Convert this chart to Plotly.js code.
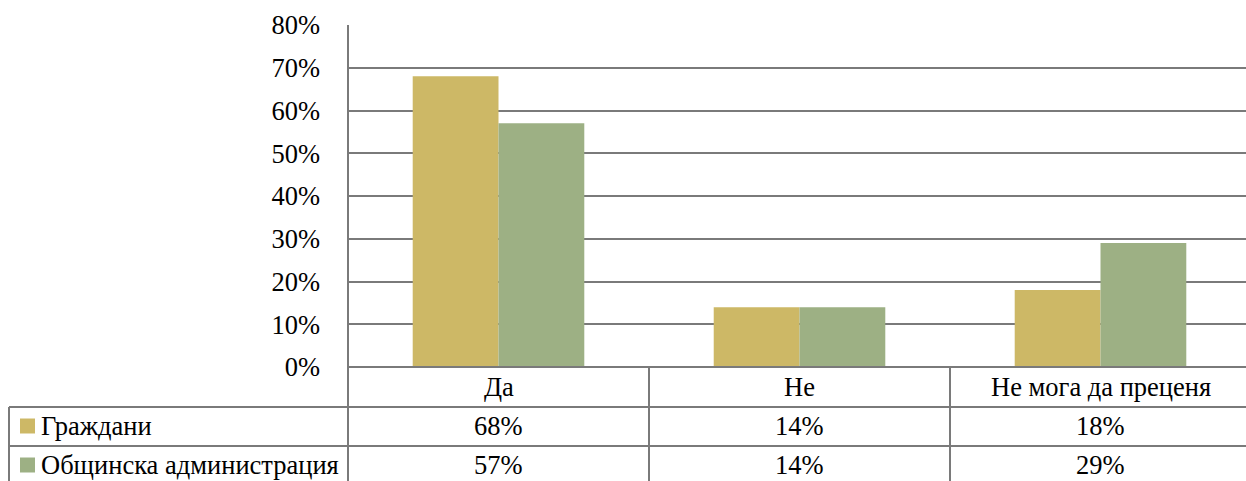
<!DOCTYPE html>
<html>
<head>
<meta charset="utf-8">
<script src="https://cdn.plot.ly/plotly-3.0.1.min.js"></script>
<style>
html,body{margin:0;padding:0;background:#fff;}
#chart{width:1246px;height:481px;}
</style>
</head>
<body>
<div id="chart"></div>
<script>
// ---- data ----
const categories = ["Да", "Не", "Не мога да преценя"];
const seriesNames = ["Граждани", "Общинска администрация"];
const grazhdani = [0.68, 0.14, 0.18];
const obshtinska = [0.57, 0.14, 0.29];
const yTicks = [0, 0.1, 0.2, 0.3, 0.4, 0.5, 0.6, 0.7, 0.8];

const colors = ["#CDB866", "#9DB084"];
const lineColor = "#7a7a7a";
const FONT = "Liberation Serif";
const FS = 26.5;

const W = 1246, H = 481;
const mL = 348, mR = 0, mT = 25, mB = 114;
const plotW = W - mL - mR, plotH = H - mT - mB;
const catPx = 301;
const xMax = -0.5 + plotW / catPx;

const px2x = p => (p - mL) / plotW;
const py2y = p => (H - mB - p) / plotH;

const xs = categories.map((c, i) => i);
const seriesVals = [grazhdani, obshtinska];

const traces = seriesVals.map((vals, s) => ({
  type: "bar",
  x: xs,
  y: vals,
  name: seriesNames[s],
  marker: {color: colors[s], line: {width: 0}},
  hoverinfo: "none"
}));

const shapes = [];
const annotations = [];
const ln = (x0, y0, x1, y1, xref) => shapes.push({
  type: "line", xref: xref || "paper", yref: "paper",
  x0: x0, y0: y0, x1: x1, y1: y1,
  line: {color: lineColor, width: 2}, layer: "above"
});

ln(0, 1, 0, py2y(H));
const rowTop = [367, 407, 446];
ln(0, py2y(rowTop[0]), 1, py2y(rowTop[0]));
ln(px2x(9), py2y(rowTop[1]), 1, py2y(rowTop[1]));
ln(px2x(9), py2y(rowTop[2]), 1, py2y(rowTop[2]));
ln(px2x(9), py2y(rowTop[1]), px2x(9), py2y(H));
for (let i = 0; i < categories.length; i++) {
  const xb = i + 0.5;
  shapes.push({type: "line", xref: "x", yref: "paper",
    x0: xb, x1: xb, y0: py2y(rowTop[0]), y1: py2y(H),
    line: {color: lineColor, width: 2}});
}

const rowMid = [387, 426, 465];
categories.forEach((c, i) => annotations.push({
  xref: "x", yref: "paper", x: i, y: py2y(rowMid[0]),
  text: c, showarrow: false, xanchor: "center", yanchor: "middle",
  font: {family: FONT, size: FS, color: "#000"}
}));
seriesVals.forEach((vals, s) => {
  shapes.push({type: "rect", xref: "paper", yref: "paper",
    x0: px2x(20), x1: px2x(35),
    y0: py2y(rowMid[s + 1] - 7.5), y1: py2y(rowMid[s + 1] + 7.5),
    fillcolor: colors[s], line: {width: 0}});
  annotations.push({
    xref: "paper", yref: "paper", x: px2x(39), y: py2y(rowMid[s + 1]),
    text: seriesNames[s], showarrow: false, xanchor: "left", yanchor: "middle",
    font: {family: FONT, size: FS, color: "#000"}
  });
  vals.forEach((v, i) => annotations.push({
    xref: "x", yref: "paper", x: i, y: py2y(rowMid[s + 1]),
    text: Math.round(v * 100) + "%", showarrow: false, xanchor: "center", yanchor: "middle",
    font: {family: FONT, size: FS, color: "#000"}
  }));
});

const layout = {
  width: W, height: H,
  margin: {l: mL, r: mR, t: mT, b: mB, pad: 0},
  paper_bgcolor: "#fff", plot_bgcolor: "#fff",
  showlegend: false,
  barmode: "group",
  bargap: 0.43,
  bargroupgap: 0,
  font: {family: FONT},
  xaxis: {
    range: [-0.5, xMax], showticklabels: false, showgrid: false,
    zeroline: false, showline: false, ticks: "", fixedrange: true
  },
  yaxis: {
    range: [0, 0.8], tickvals: yTicks, tickformat: ".0%",
    showgrid: true, gridcolor: lineColor, gridwidth: 2,
    zeroline: false, showline: false, ticks: "",
    ticklabelstandoff: 27,
    tickfont: {family: FONT, size: FS, color: "#000"}, fixedrange: true
  },
  shapes: shapes,
  annotations: annotations
};

Plotly.newPlot("chart", traces, layout, {displayModeBar: false, staticPlot: true});
</script>
</body>
</html>
